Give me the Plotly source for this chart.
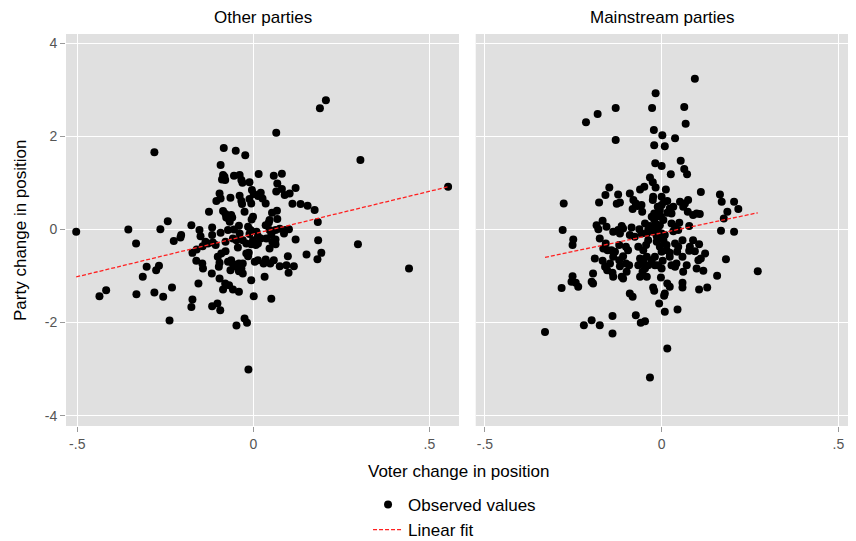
import plotly.graph_objects as go

# ---------------- data ----------------
panel_titles = ["Other parties", "Mainstream parties"]
x_title = "Voter change in position"
y_title = "Party change in position"
legend_names = ["Observed values", "Linear fit"]

x_tickvals = [-0.5, 0, 0.5]
x_ticktext = ["-.5", "0", ".5"]
y_tickvals = [-4, -2, 0, 2, 4]
y_ticktext = ["-4", "-2", "0", "2", "4"]

other_x = [0.065,-0.084,-0.050,-0.023,-0.093,0.015,0.058,0.081,-0.086,-0.082,
-0.089,-0.080,-0.055,-0.039,-0.034,-0.031,-0.011,0.068,-0.004,0.001,
0.065,0.081,0.089,0.103,0.120,0.021,0.013,0.026,0.035,-0.096,
-0.093,-0.105,-0.065,-0.039,-0.034,-0.032,-0.011,-0.006,0.111,0.134,
0.154,0.174,-0.126,-0.086,-0.079,-0.077,-0.069,-0.063,-0.060,-0.067,
-0.025,-0.001,-0.005,0.053,0.067,0.068,0.046,0.044,0.035,0.183,
-0.176,-0.153,-0.150,-0.117,-0.093,-0.072,-0.055,-0.041,-0.039,-0.015,
-0.008,-0.011,0.009,0.013,0.021,0.046,0.051,0.063,0.075,0.089,
0.101,0.087,0.120,0.184,-0.117,-0.115,-0.058,-0.048,-0.030,0.037,
0.063,-0.136,-0.001,
-0.173,-0.161,-0.144,-0.129,-0.107,-0.079,-0.044,-0.020,-0.006,0.007,0.013,
0.054,0.046,0.063,
0.193,0.182,0.151,
-0.162,-0.145,-0.143,-0.101,-0.091,-0.079,-0.096,-0.098,-0.072,-0.063,-0.058,-0.065,-0.048,-0.041,-0.030,-0.041,-0.030,-0.034,
-0.020,-0.013,-0.015,0.004,0.013,0.029,0.035,0.048,0.058,0.075,0.094,0.098,0.115,0.100,
-0.118,-0.156,-0.096,-0.080,-0.069,-0.058,-0.041,-0.086,-0.006,0.032,0.001,0.051,
-0.173,-0.176,-0.117,-0.102,-0.094,-0.025,-0.018,-0.048,
-0.503,-0.355,-0.264,-0.243,-0.333,-0.226,-0.205,-0.207,-0.303,-0.268,-0.276,-0.314,-0.418,-0.437,-0.332,-0.281,-0.256,-0.231,-0.238,-0.014,
0.297,0.442,0.189,0.206,0.304,0.553,-0.281]

other_y = [2.075,1.747,1.689,1.590,1.381,1.188,1.151,1.194,1.166,1.130,
1.074,1.059,1.151,1.166,1.059,1.001,1.010,0.988,0.844,0.758,
0.816,0.866,0.737,0.773,0.887,0.786,0.715,0.666,0.559,0.773,
0.666,0.608,0.679,0.722,0.608,0.543,0.651,0.559,0.550,0.543,
0.507,0.415,0.378,0.393,0.329,0.258,0.215,0.307,0.258,0.163,
0.378,0.271,0.215,0.357,0.400,0.221,0.200,0.150,0.092,0.157,
0.092,-0.015,-0.144,0.043,-0.073,-0.015,0.000,0.077,-0.086,0.056,
-0.015,-0.101,-0.052,-0.144,-0.193,-0.015,-0.107,-0.015,0.013,-0.015,
0.006,-0.086,-0.215,-0.230,-0.122,-0.279,-0.193,-0.230,-0.230,-0.193,
-0.215,-0.266,-0.230,
-0.503,-0.430,-0.359,-0.301,-0.337,-0.266,-0.387,-0.301,-0.316,-0.337,-0.301,
-0.266,-0.408,-0.316,
-0.503,-0.638,-0.537,
-0.675,-0.730,-0.838,-0.589,-0.516,-0.466,-0.718,-0.803,-0.696,-0.660,-0.745,-0.874,-0.803,-0.730,-0.730,-0.896,-0.945,-0.838,
-0.516,-0.503,-0.574,-0.696,-0.660,-0.730,-0.644,-0.730,-0.660,-0.788,-0.767,-0.574,-0.788,-0.932,
-0.945,-1.160,-1.053,-1.160,-1.197,-1.289,-1.340,-1.289,-1.089,-1.018,-1.433,-1.491,
-1.504,-1.663,-1.648,-1.590,-1.734,-1.912,-2.006,-2.062,
-0.052,0.000,0.006,0.178,-0.301,-0.251,-0.122,-0.172,-0.803,-0.782,-0.874,-1.018,-1.304,-1.433,-1.390,-1.353,-1.448,-1.246,-1.955,-3.008,
-0.316,-0.838,2.599,2.771,1.489,0.915,1.654]

main_x = [-0.018,0.000,0.054,0.064,0.072,0.026,-0.033,-0.025,-0.017,-0.148,
-0.159,-0.123,-0.090,-0.061,-0.049,0.012,0.111,0.165,-0.177,-0.127,
-0.118,-0.080,-0.073,-0.082,-0.068,-0.057,-0.055,-0.024,-0.025,0.000,
0.007,0.016,-0.011,-0.005,0.000,-0.010,-0.021,-0.028,-0.021,-0.002,
0.005,-0.016,-0.005,0.023,0.033,0.028,0.016,0.052,0.066,0.075,
0.061,0.074,0.089,0.099,0.108,0.170,0.205,0.186,0.217,0.176,
-0.184,-0.167,-0.179,-0.156,-0.137,-0.123,-0.113,-0.109,-0.118,-0.085,
-0.090,-0.076,-0.063,-0.057,-0.047,-0.033,-0.038,-0.042,-0.025,-0.019,
-0.010,0.000,-0.014,-0.005,0.009,0.028,0.038,0.050,0.047,0.033,
0.078,0.168,0.205,-0.175,-0.158,-0.165,-0.153,-0.142,-0.132,-0.137,
-0.120,-0.101,-0.095,-0.109,-0.066,-0.044,-0.038,-0.052,-0.014,-0.005,
0.005,0.014,0.000,0.023,0.014,0.038,0.047,0.059,0.044,0.080,
0.089,0.106,0.078,0.094,0.123,-0.189,-0.167,-0.160,-0.154,-0.146,
-0.137,-0.139,-0.120,-0.118,-0.101,-0.092,-0.099,-0.113,-0.109,-0.061,
-0.052,-0.042,-0.057,-0.066,-0.038,-0.047,-0.054,-0.061,-0.042,-0.028,
-0.019,-0.010,0.003,0.000,-0.019,-0.002,0.023,0.028,0.038,0.042,
0.059,0.071,0.061,0.104,0.111,0.099,0.118,0.157,
0.182,-0.194,-0.198,-0.194,-0.090,-0.082,-0.024,-0.021,0.016,0.023,
0.009,0.007,0.059,0.059,0.106,0.129,-0.007,0.009,0.045,-0.139,
-0.073,-0.059,-0.047,-0.198,-0.175,-0.139,0.016,-0.017,-0.130,-0.027,
-0.181,-0.214,-0.022,-0.130,-0.021,-0.277,-0.280,-0.250,-0.252,-0.283,
-0.252,-0.255,-0.243,-0.236,-0.220,-0.330,-0.033,0.094,0.064,0.068,
0.002,0.038,0.009,0.272]

main_y = [1.418,1.360,1.474,1.295,1.182,1.182,1.117,1.010,0.902,0.902,
0.737,0.752,0.773,0.859,0.915,0.859,0.801,0.752,0.580,0.550,
0.580,0.629,0.559,0.436,0.501,0.522,0.378,0.700,0.629,0.700,
0.593,0.608,0.485,0.415,0.522,0.322,0.344,0.271,0.215,0.271,
0.200,0.114,0.092,0.451,0.485,0.344,0.357,0.593,0.559,0.629,
0.485,0.378,0.307,0.344,0.329,0.593,0.593,0.378,0.436,0.236,
0.092,0.185,0.006,0.056,-0.052,-0.015,0.071,0.021,-0.086,0.043,
-0.122,-0.159,0.006,-0.086,0.129,0.071,-0.015,-0.086,-0.052,0.000,
0.043,-0.086,-0.144,-0.180,-0.122,0.129,0.056,0.142,-0.015,-0.037,
0.071,-0.030,-0.052,-0.193,-0.301,-0.408,-0.445,-0.445,-0.481,-0.589,
-0.337,-0.374,-0.445,-0.574,-0.374,-0.337,-0.230,-0.445,-0.266,-0.374,
-0.230,-0.337,-0.481,-0.503,-0.445,-0.301,-0.374,-0.230,-0.481,-0.374,
-0.230,-0.316,-0.460,-0.466,-0.516,-0.623,-0.675,-0.803,-0.874,-0.730,
-1.018,-0.932,-0.660,-0.788,-0.730,-0.767,-0.911,-1.018,-1.053,-0.623,
-0.660,-0.589,-0.730,-0.767,-0.767,-0.838,-0.911,-1.018,-1.018,-0.660,
-0.589,-0.767,-0.675,-0.838,-0.767,-1.031,-0.589,-0.767,-0.803,-0.730,
-0.589,-0.767,-0.911,-0.660,-0.623,-0.838,-0.889,-0.997,
-0.638,-0.945,-1.126,-1.160,-1.375,-1.448,-1.246,-1.319,-1.160,-1.233,
-1.375,-1.426,-1.147,-1.246,-1.289,-1.246,-1.590,-1.770,-1.719,-1.856,
-1.841,-2.006,-1.970,-1.948,-2.056,-2.234,-2.556,2.922,2.606,2.606,
2.477,2.299,2.133,1.918,1.805,0.559,-0.015,-0.215,-0.337,-1.255,
-1.003,-1.126,-1.147,-1.233,-2.056,-2.200,-3.179,3.235,2.627,2.268,
2.019,1.955,1.783,-0.896]

# linear fit end points
other_fit_x = [-0.503, 0.553]
other_fit_y = [-1.02, 0.915]
main_fit_x = [-0.330, 0.272]
main_fit_y = [-0.60, 0.357]

# ---------------- figure ----------------
FONT = "Liberation Sans, Arial, sans-serif"
TITLE_SIZE = 17
fig = go.Figure()

fig.add_trace(go.Scatter(x=other_x, y=other_y, mode="markers", name=legend_names[0],
                         marker=dict(color="black", size=8), xaxis="x", yaxis="y",
                         showlegend=True))
fig.add_trace(go.Scatter(x=main_x, y=main_y, mode="markers", name=legend_names[0],
                         marker=dict(color="black", size=8), xaxis="x2", yaxis="y2",
                         showlegend=False))
line_style = dict(color="#ff2020", width=1.3, dash="4px,2px")
fig.add_trace(go.Scatter(x=other_fit_x, y=other_fit_y, mode="lines", name=legend_names[1],
                         line=line_style, xaxis="x", yaxis="y", showlegend=True))
fig.add_trace(go.Scatter(x=main_fit_x, y=main_fit_y, mode="lines", name=legend_names[1],
                         line=line_style, xaxis="x2", yaxis="y2", showlegend=False))

axis_common = dict(showgrid=True, gridcolor="white", gridwidth=1.4, zeroline=False,
                   showline=False, ticks="outside", ticklen=5, tickcolor="#9a9a9a",
                   tickfont=dict(family=FONT, size=14, color="#555555"))

fig.update_layout(
    width=856, height=541,
    paper_bgcolor="white", plot_bgcolor="#e0e0e0",
    margin=dict(l=58, r=14, t=26, b=123, autoexpand=False),
    font=dict(family=FONT, color="black"),
    xaxis=dict(domain=[0, 0.5013], range=[-0.532, 0.584], tickvals=x_tickvals,
               ticktext=x_ticktext, anchor="y", **axis_common),
    xaxis2=dict(domain=[0.5226, 1.0], range=[-0.526, 0.533], tickvals=x_tickvals,
                ticktext=x_ticktext, anchor="y2", **axis_common),
    yaxis=dict(domain=[0, 1], range=[-4.22, 4.195], tickvals=y_tickvals,
               ticktext=y_ticktext, anchor="x", **axis_common),
    yaxis2=dict(domain=[0, 1], range=[-4.22, 4.195], tickvals=y_tickvals,
                ticktext=y_ticktext, anchor="x2", showgrid=True, gridcolor="white",
                gridwidth=1.4, zeroline=False, showline=False, ticks="",
                showticklabels=False),
    showlegend=True,
    legend=dict(xref="container", yref="container", x=0.4206, y=0.1146,
                xanchor="left", yanchor="top", orientation="v",
                font=dict(family=FONT, size=TITLE_SIZE, color="black"),
                bgcolor="rgba(0,0,0,0)", tracegroupgap=0, itemwidth=30),
    annotations=[
        dict(text=panel_titles[0], x=0.2507, y=1.041, xref="paper", yref="paper",
             showarrow=False, xanchor="center", yanchor="middle",
             font=dict(family=FONT, size=TITLE_SIZE, color="black")),
        dict(text=panel_titles[1], x=0.7613, y=1.041, xref="paper", yref="paper",
             showarrow=False, xanchor="center", yanchor="middle",
             font=dict(family=FONT, size=TITLE_SIZE, color="black")),
        dict(text=x_title, x=0.5, y=-0.1156, xref="paper", yref="paper",
             showarrow=False, xanchor="center", yanchor="middle",
             font=dict(family=FONT, size=TITLE_SIZE, color="black")),
        dict(text=y_title, x=-0.0587, y=0.5, xref="paper", yref="paper",
             showarrow=False, xanchor="center", yanchor="middle", textangle=-90,
             font=dict(family=FONT, size=TITLE_SIZE, color="black")),
    ],
)

fig.write_html("out.html")
